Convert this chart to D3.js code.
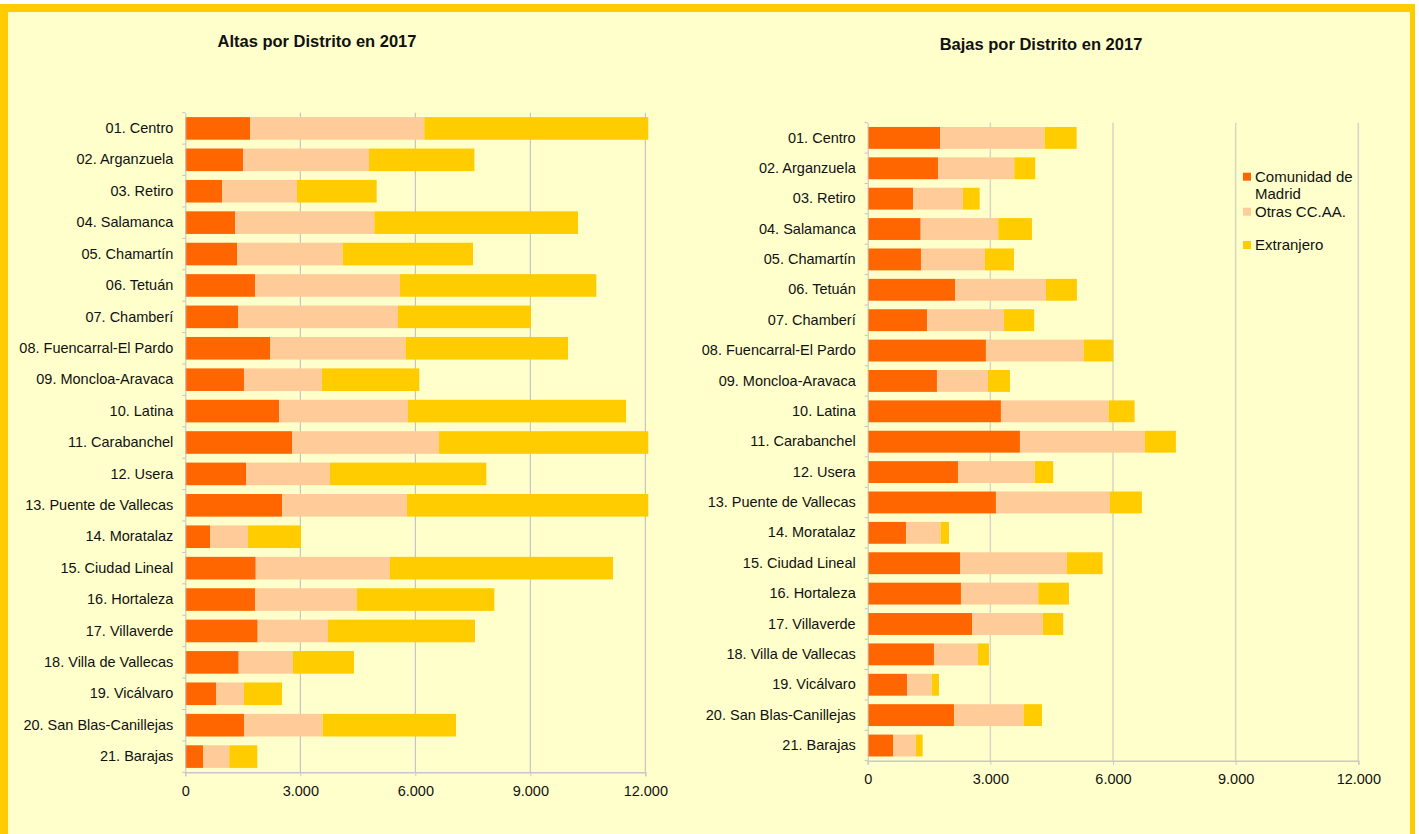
<!DOCTYPE html>
<html>
<head>
<meta charset="utf-8">
<script src="https://cdn.jsdelivr.net/npm/d3@7"></script>
<style>
  body { margin: 0; background: #ffffff; }
  svg { display: block; font-family: "Liberation Sans", Arial, sans-serif; }
</style>
</head>
<body>
<div id="viz"></div>
<script>
// Altas / Bajas por distrito, Madrid 2017

const districts = [
  "01. Centro", "02. Arganzuela", "03. Retiro", "04. Salamanca", "05. Chamartín",
  "06. Tetuán", "07. Chamberí", "08. Fuencarral-El Pardo", "09. Moncloa-Aravaca",
  "10. Latina", "11. Carabanchel", "12. Usera", "13. Puente de Vallecas",
  "14. Moratalaz", "15. Ciudad Lineal", "16. Hortaleza", "17. Villaverde",
  "18. Villa de Vallecas", "19. Vicálvaro", "20. San Blas-Canillejas", "21. Barajas",
];

const seriesNames = ["Comunidad de Madrid", "Otras CC.AA.", "Extranjero"];
const seriesColors = ["#ff6600", "#ffcc99", "#ffcc00"];

const altasComunidad = [1690, 1505, 958, 1305, 1349, 1818, 1375, 2218, 1531, 2445, 2792, 1584, 2523, 644, 1837, 1818, 1888, 1393, 809, 1531, 470];
const altasOtras = [4545, 3288, 1956, 3626, 2757, 3783, 4174, 3531, 2035, 3365, 3827, 2191, 3261, 992, 3496, 2662, 1835, 1417, 722, 2053, 678];
const altasExtranjero = [6000, 2748, 2079, 5314, 3400, 5122, 3470, 4236, 2539, 5688, 5600, 4078, 6400, 1383, 5826, 3582, 3835, 1591, 992, 3478, 730];

const bajasComunidad = [1775, 1719, 1115, 1296, 1303, 2142, 1450, 2892, 1694, 3259, 3724, 2208, 3137, 936, 2264, 2281, 2558, 1621, 961, 2110, 626];
const bajasOtras = [2553, 1866, 1215, 1897, 1565, 2217, 1883, 2389, 1247, 2633, 3056, 1882, 2787, 849, 2609, 1891, 1728, 1076, 604, 1704, 555];
const bajasExtranjero = [782, 513, 408, 824, 709, 758, 740, 724, 538, 636, 758, 448, 783, 203, 873, 750, 497, 269, 178, 448, 164];

const xTicks = [0, 3000, 6000, 9000, 12000];

const W = 1419, H = 834;
const esLocale = d3.formatLocale({ decimal: ",", thousands: ".", grouping: [3], currency: ["", " €"] });
const fmt = esLocale.format(",");

const svg = d3.select("#viz")
  .append("svg")
  .attr("width", W)
  .attr("height", H);

// background + yellow frame
svg.append("rect").attr("x", 0).attr("y", 0).attr("width", W).attr("height", H).attr("fill", "#ffffff");
svg.append("rect").attr("x", 0).attr("y", 4).attr("width", 1415).attr("height", H - 4).attr("fill", "#ffcc00");
svg.append("rect").attr("x", 8).attr("y", 12).attr("width", 1402).attr("height", H - 12).attr("fill", "#ffffcc");

function toRows(a, b, c) {
  return districts.map((d, i) => ({ district: d, s0: a[i], s1: b[i], s2: c[i] }));
}

function drawChart(opts) {
  const { id, rows, x0, x1, y0, y1, title, titleX, titleY, gridColor, gridWidth } = opts;

  const x = d3.scaleLinear().domain([0, 12000]).range([x0, x1]);
  const y = d3.scaleBand().domain(districts).range([y0, y1]).paddingInner(0.28).paddingOuter(0.14);

  const g = svg.append("g").attr("class", id);

  g.append("text")
    .attr("x", titleX)
    .attr("y", titleY)
    .attr("text-anchor", "middle")
    .style("font-size", "16.5px")
    .style("font-weight", "bold")
    .attr("fill", "#111")
    .text(title);

  // vertical gridlines
  g.selectAll("line.grid")
    .data(xTicks.filter((t) => t > 0))
    .enter()
    .append("line")
    .attr("class", "grid")
    .attr("x1", (d) => x(d))
    .attr("x2", (d) => x(d))
    .attr("y1", y0)
    .attr("y2", y1)
    .attr("stroke", gridColor)
    .attr("stroke-width", gridWidth);

  g.append("clipPath")
    .attr("id", `clip-${id}`)
    .append("rect")
    .attr("x", x0)
    .attr("y", y0)
    .attr("width", x1 - x0 + 3)
    .attr("height", y1 - y0);

  const stack = d3.stack().keys(["s0", "s1", "s2"]);
  const layers = stack(rows);

  g.append("g")
    .attr("clip-path", `url(#clip-${id})`)
    .selectAll("g")
    .data(layers)
    .enter()
    .append("g")
    .attr("fill", (d, i) => seriesColors[i])
    .selectAll("rect")
    .data((d) => d)
    .enter()
    .append("rect")
    .attr("x", (d) => x(d[0]))
    .attr("y", (d) => y(d.data.district))
    .attr("width", (d) => x(d[1]) - x(d[0]))
    .attr("height", y.bandwidth());

  // category axis
  const yAxis = g.append("g")
    .attr("transform", `translate(${x0},0)`)
    .call(d3.axisLeft(y).tickSize(0).tickPadding(12));
  yAxis.select(".domain").attr("stroke", "#c0c0c0").attr("stroke-width", 1);
  yAxis.selectAll(".tick text")
    .style("font-size", "14.5px")
    .attr("fill", "#111");

  // tick marks between categories
  g.selectAll("line.cat-tick")
    .data(d3.range(districts.length + 1))
    .enter()
    .append("line")
    .attr("class", "cat-tick")
    .attr("x1", x0 - 3)
    .attr("x2", x0)
    .attr("y1", (i) => y0 + i * y.step())
    .attr("y2", (i) => y0 + i * y.step())
    .attr("stroke", "#c0c0c0");

  // value axis
  const xAxis = g.append("g")
    .attr("transform", `translate(0,${y1})`)
    .call(d3.axisBottom(x).tickValues(xTicks).tickFormat(fmt).tickSize(4).tickPadding(9));
  xAxis.select(".domain").attr("stroke", "#c8c8c8").attr("stroke-width", 1.5);
  xAxis.selectAll(".tick line").attr("stroke", "#c8c8c8");
  xAxis.selectAll(".tick text")
    .style("font-size", "14.5px")
    .attr("fill", "#111");
}

drawChart({
  id: "altas",
  rows: toRows(altasComunidad, altasOtras, altasExtranjero),
  x0: 185.3, x1: 645.3, y0: 112.7, y1: 772.3,
  title: "Altas por Distrito en 2017", titleX: 317, titleY: 47,
  gridColor: "#b8b8c4", gridWidth: 1,
});

drawChart({
  id: "bajas",
  rows: toRows(bajasComunidad, bajasOtras, bajasExtranjero),
  x0: 867.7, x1: 1358.3, y0: 122.7, y1: 760.7,
  title: "Bajas por Distrito en 2017", titleX: 1041, titleY: 50,
  gridColor: "#d6d6c6", gridWidth: 1.5,
});

// legend
const legendLines = [["Comunidad de", "Madrid"], ["Otras CC.AA."], ["Extranjero"]];
const legendY = [181.7, 216.7, 250];

const legend = svg.append("g").attr("class", "legend");
legendLines.forEach((lines, i) => {
  legend.append("rect")
    .attr("x", 1243)
    .attr("y", legendY[i] - 9)
    .attr("width", 8)
    .attr("height", 8)
    .attr("fill", seriesColors[i]);
  lines.forEach((t, j) => {
    legend.append("text")
      .attr("x", 1255)
      .attr("y", legendY[i] + j * 17.5)
      .style("font-size", "15px")
      .attr("fill", "#111")
      .text(t);
  });
});
</script>
</body>
</html>
